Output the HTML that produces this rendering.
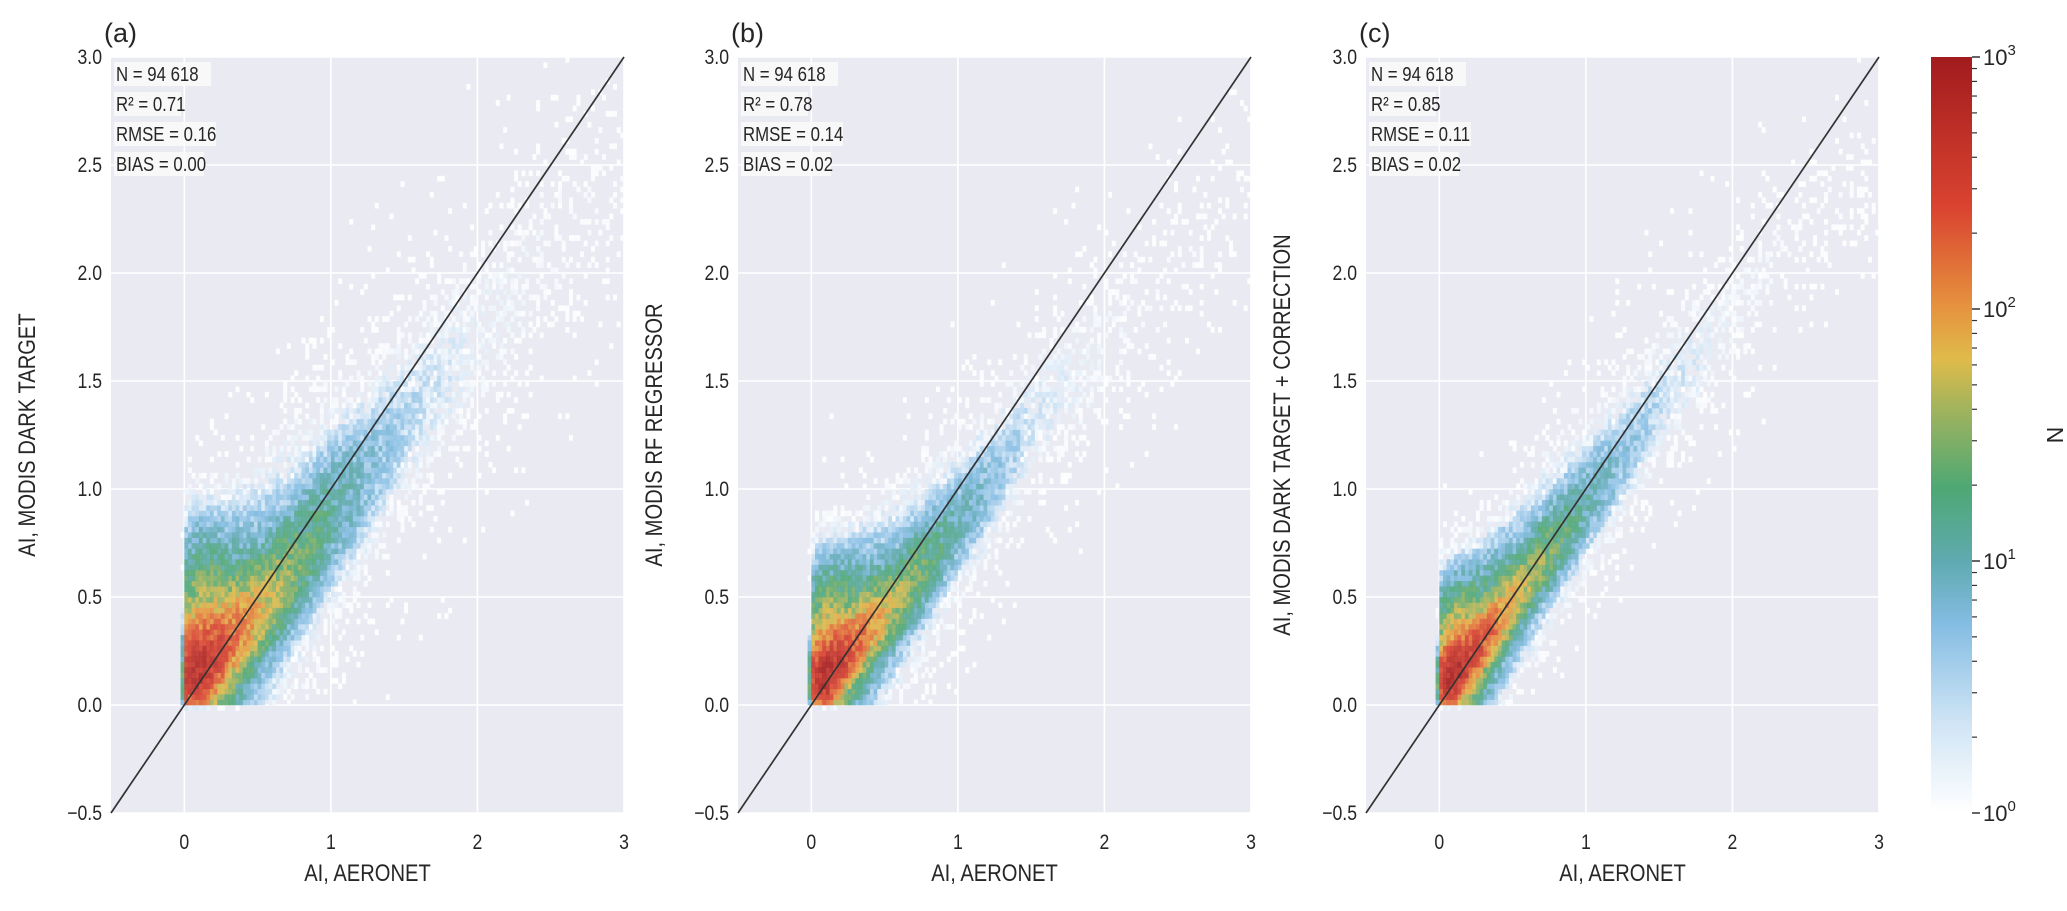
<!DOCTYPE html>
<html><head><meta charset="utf-8">
<style>
html,body{margin:0;padding:0;background:#fff;}
body{width:2067px;height:906px;overflow:hidden;}
svg text{font-family:"Liberation Sans",sans-serif;fill:#262626;}
</style></head>
<body>
<svg id="fig" width="2067" height="906" viewBox="0 0 2067 906" xmlns="http://www.w3.org/2000/svg">
<defs>
<linearGradient id="cbgrad" x1="0" y1="1" x2="0" y2="0">
<stop offset="0" stop-color="#ffffff"/>
<stop offset="0.12" stop-color="#cfe4f5"/>
<stop offset="0.25" stop-color="#84bde3"/>
<stop offset="0.333" stop-color="#5faab0"/>
<stop offset="0.43" stop-color="#4ea874"/>
<stop offset="0.53" stop-color="#9db35e"/>
<stop offset="0.6" stop-color="#dfbb4a"/>
<stop offset="0.667" stop-color="#e6943f"/>
<stop offset="0.8" stop-color="#da4430"/>
<stop offset="1" stop-color="#a21b1e"/>
</linearGradient>
</defs>
</svg>
<script>
// ---- data (profiles) ----
const panelLabels = ["(a)", "(b)", "(c)"];
const yTitles = ["AI, MODIS DARK TARGET", "AI, MODIS RF REGRESSOR", "AI, MODIS DARK TARGET + CORRECTION"];
const statN = ["94 618", "94 618", "94 618"];
const statR2 = ["0.71", "0.78", "0.85"];
const statRMSE = ["0.16", "0.14", "0.11"];
const statBIAS = ["0.00", "0.02", "0.02"];
const xTicks = [0, 1, 2, 3];
const yTicks = [-0.5, 0.0, 0.5, 1.0, 1.5, 2.0, 2.5, 3.0];
const profX = [0.02, 0.1, 0.2, 0.3, 0.4, 0.5, 0.6, 0.8, 1.0, 1.25, 1.5, 2.0, 2.5, 3.0];
const modeA = [0.12, 0.14, 0.2, 0.28, 0.35, 0.42, 0.5, 0.68, 0.88, 1.08, 1.3, 1.7, 2.1, 2.4];
const sigLoA = [0.12, 0.12, 0.13, 0.15, 0.16, 0.17, 0.19, 0.23, 0.27, 0.3, 0.33, 0.38, 0.42, 0.42];
const sigHiA = [0.2, 0.19, 0.19, 0.19, 0.2, 0.21, 0.23, 0.26, 0.29, 0.32, 0.35, 0.42, 0.48, 0.48];
const peakA = [380, 700, 420, 220, 130, 80, 50, 25, 13, 6.5, 3.5, 1.6, 0.9, 0.6];
const modeB = [0.1, 0.12, 0.19, 0.27, 0.34, 0.41, 0.49, 0.66, 0.84, 1.05, 1.3, 1.65, 2.0, 2.3];
const sigLoB = [0.09, 0.09, 0.1, 0.11, 0.12, 0.13, 0.15, 0.18, 0.21, 0.24, 0.28, 0.32, 0.36, 0.36];
const sigHiB = [0.16, 0.15, 0.15, 0.15, 0.16, 0.17, 0.18, 0.2, 0.23, 0.26, 0.29, 0.33, 0.37, 0.37];
const peakB = [420, 850, 450, 230, 125, 72, 44, 21, 10, 5, 2.6, 1.1, 0.6, 0.4];
const modeC = [0.1, 0.12, 0.2, 0.29, 0.38, 0.47, 0.56, 0.75, 0.93, 1.15, 1.4, 1.8, 2.2, 2.5];
const sigLoC = [0.08, 0.08, 0.09, 0.1, 0.11, 0.12, 0.13, 0.16, 0.19, 0.22, 0.25, 0.3, 0.34, 0.34];
const sigHiC = [0.14, 0.13, 0.13, 0.13, 0.14, 0.15, 0.16, 0.19, 0.21, 0.24, 0.27, 0.31, 0.35, 0.35];
const peakC = [450, 950, 500, 260, 145, 85, 50, 24, 11, 5.5, 3.0, 1.2, 0.6, 0.45];
const cbTicks = [1, 10, 100, 1000];
const cbTickLabels = ["0", "1", "2", "3"];

const modes = [modeA, modeB, modeC], sigLos = [sigLoA, sigLoB, sigLoC], sigHis = [sigHiA, sigHiB, sigHiC], peaks = [peakA, peakB, peakC];

const NS = "http://www.w3.org/2000/svg";
const svg = document.getElementById("fig");
const lefts = [111, 738, 1366];
const W = 513, TOP = 57, H = 756;
const XMIN = -0.5, XMAX = 3, YMIN = -0.5, YMAX = 3;
function mk(tag, attrs, parent) {
  const e = document.createElementNS(NS, tag);
  for (const k in attrs) e.setAttribute(k, attrs[k]);
  (parent || svg).appendChild(e);
  return e;
}
function ctext(x, y, size, anchor, rot, parent) {
  const sc = 0.84;
  const tr = "translate(" + x + " " + y + ")" + (rot ? " rotate(" + rot + ")" : "") + " scale(" + sc + " 1)";
  return mk("text", {x: 0, y: 0, "font-size": size, "text-anchor": anchor, transform: tr}, parent);
}
function interp(arr, x) {
  if (x <= profX[0]) return arr[0];
  for (let i = 1; i < profX.length; i++) {
    if (x <= profX[i]) { const t = (x - profX[i-1]) / (profX[i] - profX[i-1]); return arr[i-1] + t * (arr[i] - arr[i-1]); }
  }
  return arr[arr.length - 1];
}
const cstops = [[0,[255,255,255]],[0.12,[207,228,245]],[0.25,[132,189,227]],[0.333,[95,170,176]],[0.43,[78,168,116]],[0.53,[157,179,94]],[0.6,[223,187,74]],[0.667,[230,148,63]],[0.8,[218,68,48]],[1,[162,27,30]]];
function cmap(t) {
  t = Math.max(0, Math.min(1, t));
  for (let i = 1; i < cstops.length; i++) {
    if (t <= cstops[i][0]) {
      const a = cstops[i-1], b = cstops[i], u = (t - a[0]) / (b[0] - a[0]);
      return "rgb(" + [0,1,2].map(j => Math.round(a[1][j] + u * (b[1][j] - a[1][j]))).join(",") + ")";
    }
  }
  return "rgb(162,27,30)";
}
function hash(a, b, c) {
  let h = (a * 374761393 + b * 668265263 + c * 982451653) | 0;
  h = (h ^ (h >>> 13)) * 1274126177 | 0;
  h = h ^ (h >>> 16);
  return ((h >>> 0) % 10000) / 10000;
}

for (let p = 0; p < 3; p++) {
  const L = lefts[p];
  const sx = v => L + (v - XMIN) / (XMAX - XMIN) * W;
  const sy = v => TOP + (YMAX - v) / (YMAX - YMIN) * H;
  const g = mk("g", {});
  
  
  const bg = mk("rect", {x: L, y: TOP, width: W, height: H, fill: "#eaeaf2"}, g);
  
  
  xTicks.forEach(v => {
    const l = mk("line", {x1: sx(v), x2: sx(v), y1: TOP, y2: TOP + H, stroke: "#fff", "stroke-width": 1.6}, g);
    
    
  });
  yTicks.forEach(v => {
    const l = mk("line", {x1: L, x2: L + W, y1: sy(v), y2: sy(v), stroke: "#fff", "stroke-width": 1.6}, g);
    
    
  });
  const hm = mk("g", {}, g);
  
  
  const bx = 0.025, by = 0.025;
  const cw = sx(bx) - sx(0), ch = sy(0) - sy(by);
  for (let i = -1; i < 120; i++) {
    const x = i * bx + bx / 2;
    const m = interp(modes[p], x), sl = interp(sigLos[p], x), sh = interp(sigHis[p], x), pk = interp(peaks[p], x);
    const edge = i < 0 ? 0.05 : 1;
    for (let j = -2; j < 120; j++) {
      const y = j * by + by / 2;
      const s = y < m ? sl : sh;
      const z = (y - m) / s;
      const zc = z / 0.6, zt = z / 1.5;
      let c = pk * edge * (0.85 * Math.exp(-0.5 * zc * zc) + 0.15 * Math.exp(-0.5 * zt * zt) + 0.002 * Math.exp(-0.5 * (z / 3) * (z / 3)));
      if (y < 0) c *= (j === -1 ? 0.02 : 0.0);
      if (c < 0.04) continue;
      const r = hash(p + 1, i + 5, j + 7);
      if (c < 3) { if (r > c / 3) continue; c = 1 + r * 1.0 * c; }
      else c *= (0.5 + 1.0 * r);
      const t = Math.log10(Math.max(1, c)) / 3;
      const cell = mk("rect", {x: sx(i * bx).toFixed(1), y: sy((j + 1) * by).toFixed(1), width: (cw + 0.3).toFixed(1), height: (ch + 0.3).toFixed(1), fill: cmap(t), "fill-opacity": 0.9}, hm);
      
      
    }
  }
  const d = mk("line", {x1: sx(-0.5), y1: sy(-0.5), x2: sx(3), y2: sy(3), stroke: "#333", "stroke-width": 1.7}, g);
  
  
  xTicks.forEach(v => {
    const t = ctext(sx(v), 849, 21, "middle", 0, g);
    t.textContent = String(v);
    
    
  });
  yTicks.forEach(v => {
    const t = ctext(L - 9, sy(v) + 7, 21, "end", 0, g);
    t.textContent = (v < 0 ? "\u2212" + Math.abs(v).toFixed(1) : v.toFixed(1));
    
    
  });
  const xt = ctext(L + W / 2, 881, 24, "middle", 0, g);
  xt.textContent = "AI, AERONET";
  
  
  const ytx = L - 76;
  const yt = ctext(ytx, TOP + H / 2, 24, "middle", -90, g);
  yt.textContent = yTitles[p];
  
  
  const pl = mk("text", {x: L - 7, y: 42, "font-size": 27}, g);
  pl.textContent = panelLabels[p];
  
  
  const lines = ["N = " + statN[p], "R\u00b2 = " + statR2[p], "RMSE = " + statRMSE[p], "BIAS = " + statBIAS[p]];
  const widths = [97, 67, 102, 90];
  lines.forEach((s, k) => {
    const cy = 74 + k * 30;
    const b = mk("rect", {x: L + 3, y: cy - 12, width: widths[k], height: 24, fill: "#fafafa", "fill-opacity": 0.85}, g);
    
    
    const t = ctext(L + 5, cy + 7, 20, "start", 0, g);
    t.textContent = s;
    
    
  });
}
const CBX = 1931, CBW = 41, CBT = 57, CBH = 756;
const cb = mk("rect", {x: CBX, y: CBT, width: CBW, height: CBH, fill: "url(#cbgrad)"});


const cy = v => CBT + CBH - Math.log10(v) / 3 * CBH;
for (let dec = 0; dec < 3; dec++) {
  for (let m = 2; m <= 9; m++) {
    const v = m * Math.pow(10, dec);
    const t = mk("line", {x1: CBX + CBW, x2: CBX + CBW + 5, y1: cy(v), y2: cy(v), stroke: "#333", "stroke-width": 1.2});
    
    
  }
}
cbTicks.forEach((v, k) => {
  const t = mk("line", {x1: CBX + CBW, x2: CBX + CBW + 8, y1: cy(v), y2: cy(v), stroke: "#333", "stroke-width": 1.5});
  
  
  const tx = mk("text", {x: CBX + CBW + 11, y: cy(v) + 8, "font-size": 22});
  tx.innerHTML = '10<tspan dy="-10" font-size="15">' + cbTickLabels[k] + '</tspan>';
  
  
});
const nl = mk("text", {x: 2047, y: CBT + CBH / 2, "font-size": 23, "text-anchor": "middle", transform: "rotate(90 2047 " + (CBT + CBH / 2) + ")"});
nl.textContent = "N";


</script>
</body></html>
